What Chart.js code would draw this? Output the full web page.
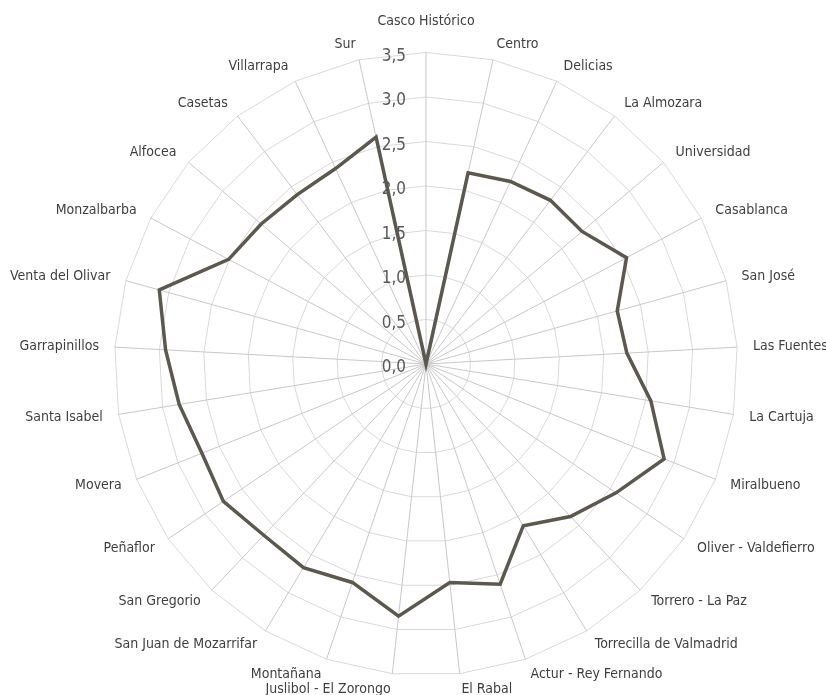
<!DOCTYPE html>
<html>
<head>
<meta charset="utf-8">
<script src="https://cdn.jsdelivr.net/npm/chart.js@4"></script>
<style>
  html, body { margin: 0; padding: 0; background: #ffffff; overflow: hidden; width: 826px; height: 695px; }
  #wrap { width: 832px; height: 708px; position: absolute; left: 3px; top: 2px; }
</style>
</head>
<body>
<div id="wrap"><canvas id="c"></canvas></div>
<script>
const categories = [
  "Casco Histórico", "Centro", "Delicias", "La Almozara", "Universidad",
  "Casablanca", "San José", "Las Fuentes", "La Cartuja", "Miralbueno",
  "Oliver - Valdefierro", "Torrero - La Paz", "Torrecilla de Valmadrid",
  "Actur - Rey Fernando", "El Rabal", "Juslibol - El Zorongo", "Montañana",
  "San Juan de Mozarrifar", "San Gregorio", "Peñaflor", "Movera",
  "Santa Isabel", "Garrapinillos", "Venta del Olivar", "Monzalbarba",
  "Alfocea", "Casetas", "Villarrapa", "Sur"
];
const values = [
  0, 2.20, 2.26, 2.31, 2.30,
  2.55, 2.23, 2.26, 2.56, 2.88,
  2.58, 2.36, 2.12,
  2.61, 2.47, 2.85, 2.59,
  2.67, 2.65, 2.75, 2.71,
  2.81, 2.93, 3.11, 2.51,
  2.43, 2.39, 2.42, 2.61
];
const tickValues = [0, 0.5, 1.0, 1.5, 2.0, 2.5, 3.0, 3.5];
const tickLabels = ["0,0", "0,5", "1,0", "1,5", "2,0", "2,5", "3,0", "3,5"];

const FONT = "'DejaVu Sans Condensed', 'Liberation Sans Narrow', sans-serif";

const tickPlugin = {
  id: 'leftTicks',
  afterDatasetsDraw(chart) {
    const s = chart.scales.r;
    const ctx = chart.ctx;
    ctx.save();
    ctx.font = "17px " + FONT;
    ctx.fillStyle = "#595959";
    ctx.textAlign = "right";
    ctx.textBaseline = "middle";
    tickValues.forEach((v, i) => {
      const d = s.getDistanceFromCenterForValue(v);
      ctx.fillText(tickLabels[i], s.xCenter - 20, s.yCenter - d + 4);
    });
    ctx.restore();
  }
};

new Chart(document.getElementById('c'), {
  type: 'radar',
  data: {
    labels: categories,
    datasets: [{
      data: values,
      borderColor: '#5b5850',
      borderWidth: 3.5,
      fill: false,
      pointRadius: 0,
      pointHoverRadius: 0,
      tension: 0,
      borderJoinStyle: 'miter'
    }]
  },
  options: {
    responsive: true,
    maintainAspectRatio: false,
    animation: false,
    layout: { padding: 0 },
    plugins: { legend: { display: false }, tooltip: { enabled: false } },
    scales: {
      r: {
        min: 0,
        max: 3.5,
        beginAtZero: true,
        ticks: { stepSize: 0.5, display: false },
        grid: { color: '#d9d9d9', lineWidth: 1 },
        angleLines: { color: '#c8c8c8', lineWidth: 1 },
        pointLabels: {
          color: '#3f3f3f',
          padding: (ctx) => (ctx.index === 0 ? 31 : 16),
          font: { family: FONT, size: 14, lineHeight: 0.01 }
        }
      }
    }
  },
  plugins: [tickPlugin]
});
</script>
</body>
</html>
